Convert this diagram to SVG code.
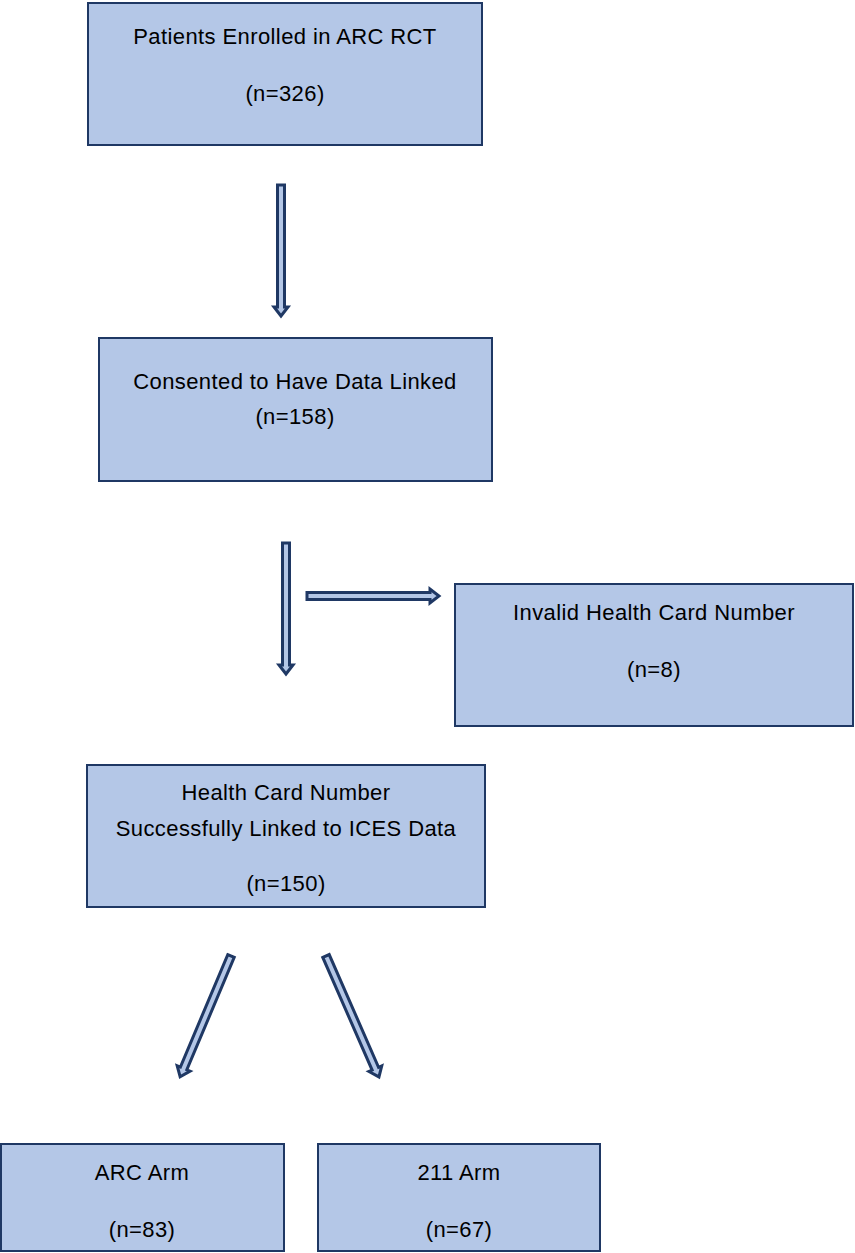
<svg xmlns="http://www.w3.org/2000/svg" width="855" height="1253" viewBox="0 0 855 1253">
<style>
.box{fill:#b4c7e7;stroke:#1f3864;stroke-width:2}
.t{font-family:"Liberation Sans",Arial,sans-serif;font-size:22px;letter-spacing:0.4px;fill:#000;text-anchor:middle}
.arr{fill:#b4c7e7;stroke:#1f3864;stroke-width:3;stroke-linejoin:miter}
</style>
<rect width="855" height="1253" fill="#fff"/>
<g id="connectors">
<g transform="translate(281,185)"><polygon class="arr" points="-3.5,0 3.5,0 3.5,122 7,122 0,131 -7,122 -3.5,122"/></g>
<g transform="translate(286,543)"><polygon class="arr" points="-3.5,0 3.5,0 3.5,122 7,122 0,131 -7,122 -3.5,122"/></g>
<g transform="translate(307,596) rotate(-90)"><polygon class="arr" points="-3.5,0 3.5,0 3.5,123 7,123 0,132 -7,123 -3.5,123"/></g>
<g transform="translate(231,956) rotate(22.85)"><polygon class="arr" points="-3.5,0 3.5,0 3.5,122 7,122 0,131 -7,122 -3.5,122"/></g>
<g transform="translate(326,956) rotate(-23.65)"><polygon class="arr" points="-3.5,0 3.5,0 3.5,123 7,123 0,132 -7,123 -3.5,123"/></g>
</g>
<g id="n1"><rect class="box" x="88" y="3" width="394" height="142"/>
<text class="t" x="285" y="44">Patients Enrolled in ARC RCT</text>
<text class="t" x="285" y="101">(n=326)</text></g>
<g id="n2"><rect class="box" x="99" y="338" width="393" height="143"/>
<text class="t" x="295" y="389">Consented to Have Data Linked</text>
<text class="t" x="295" y="424">(n=158)</text></g>
<g id="n3"><rect class="box" x="455" y="584" width="398" height="142"/>
<text class="t" x="654" y="620">Invalid Health Card Number</text>
<text class="t" x="654" y="677">(n=8)</text></g>
<g id="n4"><rect class="box" x="87" y="765" width="398" height="142"/>
<text class="t" x="286" y="800">Health Card Number</text>
<text class="t" x="286" y="836">Successfully Linked to ICES Data</text>
<text class="t" x="286" y="891">(n=150)</text></g>
<g id="n5"><rect class="box" x="1" y="1144" width="283" height="107"/>
<text class="t" x="142" y="1180">ARC Arm</text>
<text class="t" x="142" y="1237">(n=83)</text></g>
<g id="n6"><rect class="box" x="318" y="1144" width="282" height="107"/>
<text class="t" x="459" y="1180">211 Arm</text>
<text class="t" x="459" y="1237">(n=67)</text></g>
</svg>
